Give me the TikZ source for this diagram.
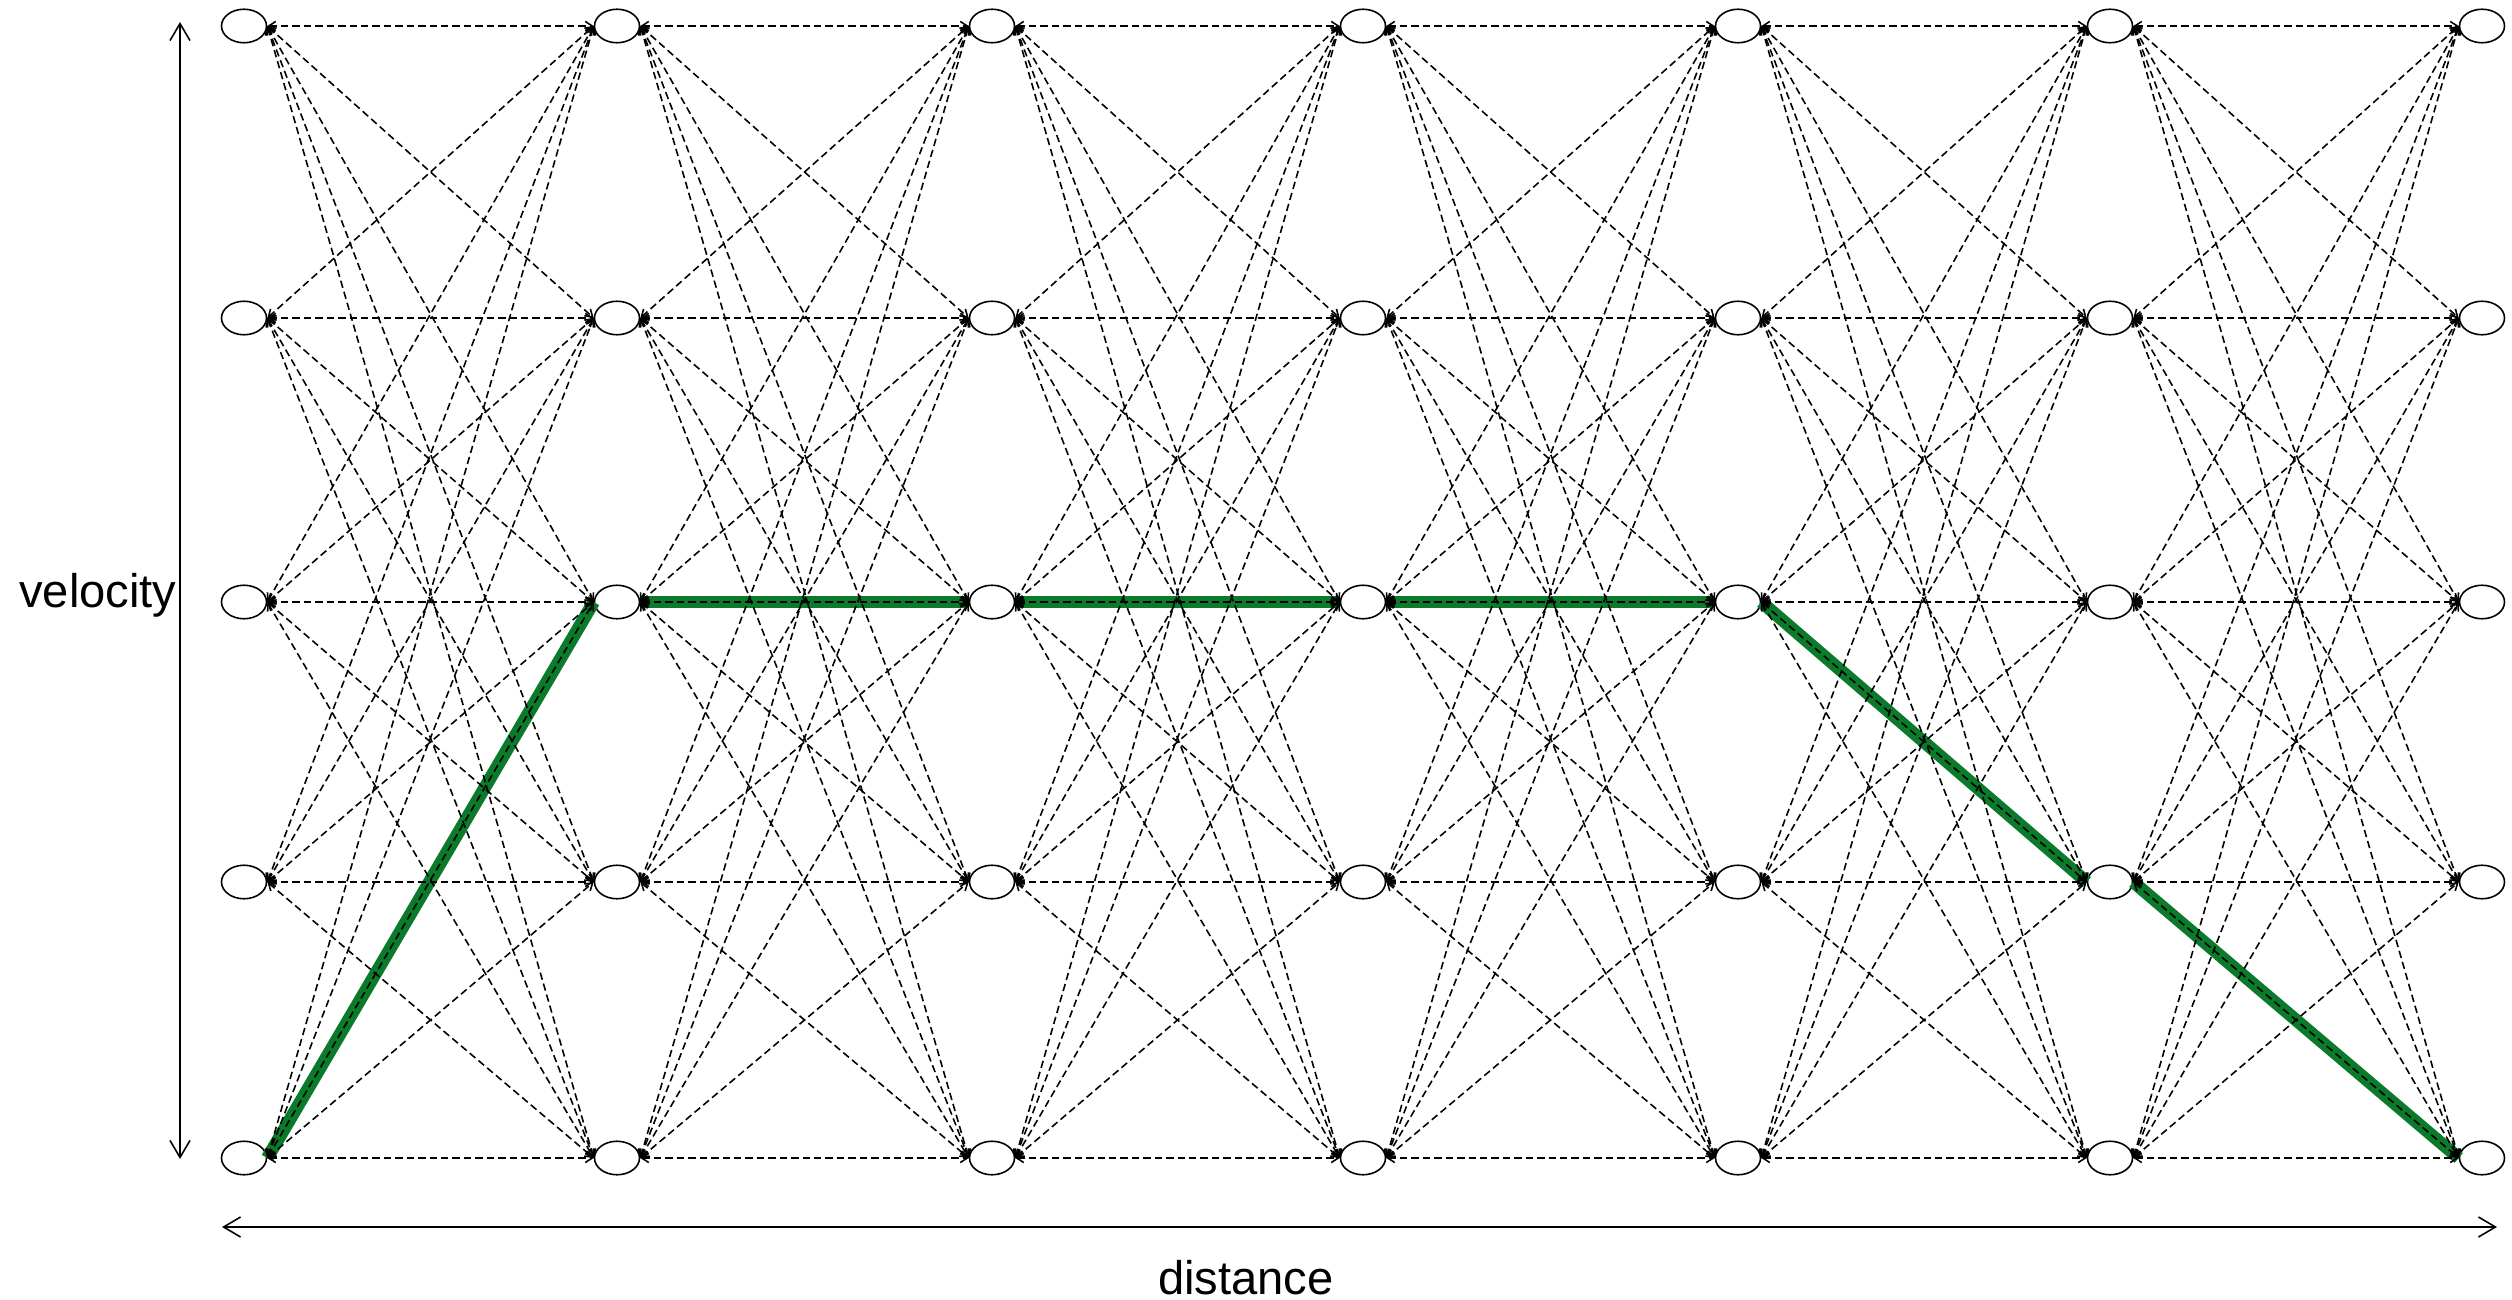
\documentclass[tikz,border=0pt]{standalone}
\usepackage{fontspec}
\setmainfont{Liberation Sans}
\usetikzlibrary{arrows.meta,shapes.geometric}

\definecolor{pathgreen}{RGB}{11,122,42}

\tikzstyle{state} = [ellipse,draw,line width=0.45pt,minimum width=0.45cm,minimum height=0.335cm,inner sep=0pt]
\tikzstyle{edge} = [line width=0.45pt,dash pattern=on 2.1pt off 1.15pt,{Straight Barb[length=2pt,width=2.6pt]}-{Straight Barb[length=2pt,width=2.6pt]}]
\tikzstyle{best} = [line width=3.6pt,color=pathgreen]
\tikzstyle{axis} = [line width=0.45pt,{Straight Barb[length=0.17cm,width=0.2cm]}-{Straight Barb[length=0.17cm,width=0.2cm]}]
\tikzstyle{every node}=[font=\fontsize{13.4}{16}\selectfont]

\begin{document}
\begin{tikzpicture}[x=0.01cm,y=-0.01cm]
	\useasboundingbox (0,0) rectangle (2512,1300);
	\foreach \x [count=\i] in {244,617,992,1363,1738,2110,2482}
	\foreach \y [count=\j] in {26,318,602,882,1158}
	{\node[state] (n\i-\j) at (\x,\y) {};}
	\draw[best] (n1-5.east) -- (n2-3.west);
	\draw[best] (n2-3.east) -- (n3-3.west);
	\draw[best] (n3-3.east) -- (n4-3.west);
	\draw[best] (n4-3.east) -- (n5-3.west);
	\draw[best] (n5-3.east) -- (n6-4.west);
	\draw[best] (n6-4.east) -- (n7-5.west);
	\foreach \i [evaluate=\i as \k using int(\i+1)] in {1,...,6}
	\foreach \a in {1,...,5}
	\foreach \b in {1,...,5}
	{\draw[edge] (n\i-\a.east) -- (n\k-\b.west);}
	\coordinate (vtop) at (180,22);
	\coordinate (vbot) at (180,1159);
	\coordinate (dleft) at (222,1227);
	\coordinate (dright) at (2497,1227);
	\draw[axis] (vtop) -- (vbot);
	\draw[axis] (dleft) -- (dright);
	\node[anchor=base] (vlabel) at (98,607) {velocity};
	\node[anchor=base] (dlabel) at (1246,1294) {distance};
\end{tikzpicture}
\end{document}
